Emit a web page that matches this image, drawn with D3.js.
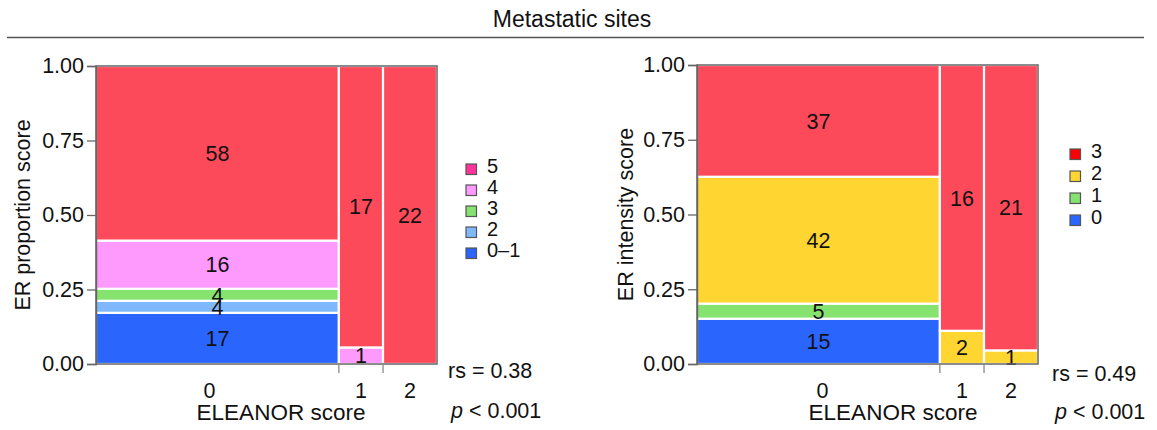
<!DOCTYPE html>
<html>
<head>
<meta charset="utf-8">
<script src="https://cdn.jsdelivr.net/npm/d3@7"></script>
<style>
  body { margin: 0; background: #fff; }
  text { font-family: "Liberation Sans", Arial, sans-serif; fill: #111; }
</style>
</head>
<body>
<div id="chart"></div>
<script>
// ELEANOR score columns
const eleanorScores = ["0", "1", "2"];

// left panel: ER proportion score (bottom to top)
const propCategories = ["0\u20131", "2", "3", "4", "5"];
const propCounts = [
  [17, 4, 4, 16, 58],
  [0, 0, 0, 1, 17],
  [0, 0, 0, 0, 22]
];
const propFill = ["#2a65fd", "#80b8fd", "#86e370", "#fe99fd", "#fd4a5b"];
const propLegendFill = ["#2a65fd", "#80b8fd", "#86e370", "#fe99fd", "#ff3399"];

// right panel: ER intensity score (bottom to top)
const intCategories = ["0", "1", "2", "3"];
const intCounts = [
  [15, 5, 42, 37],
  [0, 0, 2, 16],
  [0, 0, 1, 21]
];
const intFill = ["#2a65fd", "#86e370", "#fed531", "#fd4a5b"];
const intLegendFill = ["#2a65fd", "#86e370", "#fed531", "#ff0000"];

const yTicks = [0, 0.25, 0.5, 0.75, 1];

const FS = "21.5px";
const width = 1157, height = 430;
const svg = d3.select("#chart").append("svg")
  .attr("width", width)
  .attr("height", height);

svg.append("text")
  .attr("x", 572).attr("y", 27)
  .attr("text-anchor", "middle")
  .style("font-size", "23px")
  .text("Metastatic sites");

svg.append("line")
  .attr("x1", 7).attr("x2", 1144)
  .attr("y1", 37.5).attr("y2", 37.5)
  .attr("stroke", "#555").attr("stroke-width", 1.6);

function mosaic(opts) {
  const counts = opts.counts;
  const colTotals = counts.map(d => d3.sum(d));
  const colStart = [0].concat(Array.from(d3.cumsum(colTotals)).slice(0, -1));
  const grand = d3.sum(colTotals);

  const x = d3.scaleLinear().domain([0, grand]).range([opts.left, opts.right]);
  const y = d3.scaleLinear().domain([0, 1]).range([opts.bottom, opts.top]);

  const g = svg.append("g");

  // cells
  const cells = [];
  counts.forEach((col, i) => {
    let acc = 0;
    col.forEach((v, j) => {
      if (v > 0) {
        cells.push({ col: i, cat: j, v: v, y0: acc / colTotals[i], y1: (acc + v) / colTotals[i] });
      }
      acc += v;
    });
  });

  g.selectAll("rect.cell").data(cells).enter().append("rect")
    .attr("class", "cell")
    .attr("x", d => x(colStart[d.col]))
    .attr("width", d => x(colStart[d.col] + colTotals[d.col]) - x(colStart[d.col]))
    .attr("y", d => y(d.y1))
    .attr("height", d => y(d.y0) - y(d.y1))
    .attr("fill", d => opts.fill[d.cat])
    .attr("stroke", "#fff")
    .attr("stroke-width", 2.2);

  g.selectAll("text.cnt").data(cells).enter().append("text")
    .attr("class", "cnt")
    .attr("x", d => x(colStart[d.col] + colTotals[d.col] / 2))
    .attr("y", d => y((d.y0 + d.y1) / 2))
    .attr("dy", "0.36em")
    .attr("text-anchor", "middle")
    .style("font-size", FS)
    .text(d => d.v);

  // frame
  g.append("rect")
    .attr("x", opts.left).attr("y", opts.top)
    .attr("width", opts.right - opts.left)
    .attr("height", opts.bottom - opts.top)
    .attr("fill", "none")
    .attr("stroke", "#666").attr("stroke-width", 1.5);

  // y axis
  const yAxis = g.append("g")
    .attr("transform", `translate(${opts.left},0)`)
    .call(d3.axisLeft(y).tickValues(yTicks).tickFormat(d3.format(".2f")).tickSize(9).tickPadding(3));
  yAxis.select(".domain").attr("stroke", "#666").attr("stroke-width", 1.5);
  yAxis.selectAll(".tick line").attr("stroke", "#666").attr("stroke-width", 1.3);
  yAxis.selectAll("text").style("font-size", FS).style("font-family", "Liberation Sans, Arial, sans-serif").attr("fill", "#111");

  // x ticks at column boundaries
  const bounds = colStart.slice(1);
  g.selectAll("line.xt").data(bounds).enter().append("line")
    .attr("x1", d => x(d)).attr("x2", d => x(d))
    .attr("y1", opts.bottom + 1).attr("y2", opts.bottom + 9)
    .attr("stroke", "#888").attr("stroke-width", 1.3);

  g.selectAll("text.xl").data(eleanorScores).enter().append("text")
    .attr("x", (d, i) => x(colStart[i] + colTotals[i] / 2) + (i === 0 ? opts.zeroShift : 0))
    .attr("y", 398)
    .attr("text-anchor", "middle")
    .style("font-size", FS)
    .text(d => d);

  g.append("text")
    .attr("x", opts.xTitleX).attr("y", 420)
    .attr("text-anchor", "middle")
    .style("font-size", "22.5px")
    .text("ELEANOR score");

  g.append("text")
    .attr("transform", `translate(${opts.yTitleX},${(opts.top + opts.bottom) / 2}) rotate(-90)`)
    .attr("text-anchor", "middle")
    .style("font-size", FS)
    .text(opts.yTitle);

  // legend (top category first)
  const leg = opts.categories.map((c, i) => ({ c: c, f: opts.legendFill[i] })).reverse();
  const lg = g.append("g").attr("transform", `translate(${opts.legX},${opts.legY})`);
  const item = lg.selectAll("g").data(leg).enter().append("g")
    .attr("transform", (d, i) => `translate(0,${i * opts.legStep})`);
  item.append("rect")
    .attr("x", 0).attr("y", -5).attr("width", 10.5).attr("height", 10.5)
    .attr("fill", d => d.f).attr("stroke", "#555").attr("stroke-width", 1.2);
  item.append("text")
    .attr("x", 21).attr("y", -3).attr("dy", "0.36em")
    .style("font-size", "20px")
    .text(d => d.c);

  // statistics
  g.append("text")
    .attr("x", opts.statX).attr("y", opts.rsY)
    .style("font-size", FS)
    .text("rs = " + opts.rs);
  const p = g.append("text")
    .attr("x", opts.statX + 3).attr("y", opts.pY)
    .style("font-size", FS);
  p.append("tspan").style("font-style", "italic").text("p");
  p.append("tspan").text(" < 0.001");
}

mosaic({
  counts: propCounts, fill: propFill, legendFill: propLegendFill,
  categories: propCategories,
  left: 96, right: 437, top: 66, bottom: 364,
  yTitle: "ER proportion score", yTitleX: 30, xTitleX: 281, zeroShift: -8,
  legX: 466, legY: 169, legStep: 21,
  statX: 448, rsY: 378, pY: 418, rs: "0.38"
});

mosaic({
  counts: intCounts, fill: intFill, legendFill: intLegendFill,
  categories: intCategories,
  left: 697, right: 1038, top: 65, bottom: 364,
  yTitle: "ER intensity score", yTitleX: 633, xTitleX: 893, zeroShift: 4,
  legX: 1070, legY: 154, legStep: 22,
  statX: 1052, rsY: 381, pY: 419, rs: "0.49"
});
</script>
</body>
</html>
